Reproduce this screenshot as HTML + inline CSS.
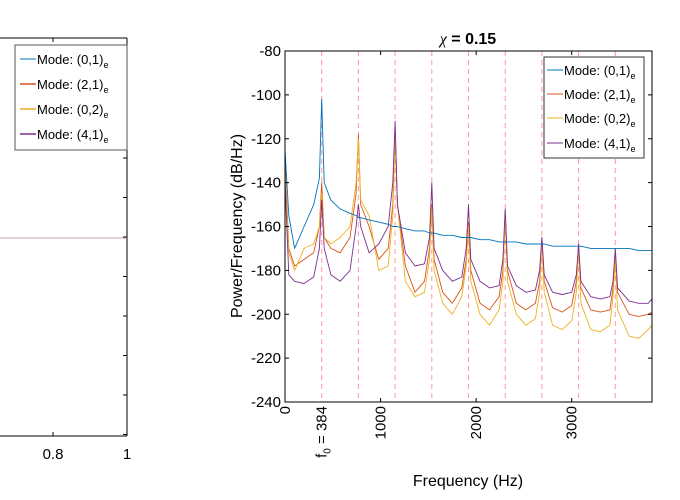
<!DOCTYPE html>
<html><head><meta charset="utf-8"><style>
body{margin:0;background:#fff;}
svg{display:block;font-family:"Liberation Sans",sans-serif;}
</style></head><body>
<svg id="c" width="680" height="500" viewBox="0 0 680 500">
<g id="left">
  <line x1="0" y1="436" x2="127" y2="436" stroke="#000"/>
  <line x1="0" y1="38" x2="127" y2="38" stroke="#000"/>
  <line x1="127" y1="38" x2="127" y2="436" stroke="#000"/>
  <line x1="53" y1="436" x2="53" y2="432" stroke="#000"/>
  <line x1="53" y1="38" x2="53" y2="42" stroke="#000"/>
  <line x1="0" y1="238" x2="127" y2="238" stroke="#c9a0b0" stroke-width="1"/>
  <text x="53" y="459" font-size="15" text-anchor="middle">0.8</text>
  <text x="127" y="459" font-size="15" text-anchor="middle">1</text>
  <g id="ltick"></g>
  <g>
    <rect x="15" y="45" width="112" height="105" fill="#fff" stroke="#555"/>
    <line x1="20" y1="59" x2="36" y2="59" stroke="#0072bd"/><text x="37" y="64" font-size="13">Mode: (0,1)<tspan font-size="9" dy="4">e</tspan></text>
    <line x1="20" y1="84" x2="36" y2="84" stroke="#d95319" stroke-width="1.5"/><text x="37" y="89" font-size="13">Mode: (2,1)<tspan font-size="9" dy="4">e</tspan></text>
    <line x1="20" y1="109" x2="36" y2="109" stroke="#edb120" stroke-width="1.5"/><text x="37" y="114" font-size="13">Mode: (0,2)<tspan font-size="9" dy="4">e</tspan></text>
    <line x1="20" y1="134" x2="36" y2="134" stroke="#7e2f8e" stroke-width="1.5"/><text x="37" y="139" font-size="13">Mode: (4,1)<tspan font-size="9" dy="4">e</tspan></text>
  </g>
</g>
<g id="right">
  <text x="468" y="44" font-size="16" font-weight="bold" text-anchor="middle"><tspan font-family="Liberation Serif" font-style="italic" font-weight="normal">χ</tspan> = 0.15</text>
  <text transform="translate(242,226) rotate(-90)" font-size="16" text-anchor="middle">Power/Frequency (dB/Hz)</text>
  <text x="468" y="486" font-size="16" text-anchor="middle">Frequency (Hz)</text>
  <g id="grid"></g>
  <g id="series"></g>
  <g id="axes"></g>
  <rect x="285" y="51" width="367" height="351" fill="none" stroke="#000"/>
  <g>
    <rect x="544" y="57" width="100" height="101" fill="#fff" stroke="#333"/>
    <line x1="547" y1="70" x2="563" y2="70" stroke="#0072bd"/><text x="564" y="75" font-size="13">Mode: (0,1)<tspan font-size="9" dy="4">e</tspan></text>
    <line x1="547" y1="94" x2="563" y2="94" stroke="#d95319"/><text x="564" y="99" font-size="13">Mode: (2,1)<tspan font-size="9" dy="4">e</tspan></text>
    <line x1="547" y1="118" x2="563" y2="118" stroke="#edb120"/><text x="564" y="123" font-size="13">Mode: (0,2)<tspan font-size="9" dy="4">e</tspan></text>
    <line x1="547" y1="143" x2="563" y2="143" stroke="#7e2f8e"/><text x="564" y="148" font-size="13">Mode: (4,1)<tspan font-size="9" dy="4">e</tspan></text>
  </g>
</g>
</svg>
<script>
const freqs=[0,40,100,200,300,360,384,410,480,576,680,744,768,792,880,980,1080,1128,1152,1176,1260,1360,1460,1512,1536,1560,1650,1750,1850,1896,1920,1944,2040,2140,2240,2280,2304,2328,2420,2520,2620,2664,2688,2712,2800,2900,3000,3048,3072,3096,3200,3300,3400,3432,3456,3480,3600,3700,3800,3840];
const mode01=[-125,-155,-170,-160,-150,-138,-102,-140,-148,-152,-154,-155,-156,-156,-157,-158,-159,-160,-160,-160,-161,-162,-162,-163,-163,-163,-164,-164,-165,-165,-165,-165,-166,-166,-167,-167,-167,-167,-167,-168,-168,-168,-168,-168,-169,-169,-169,-169,-169,-169,-170,-170,-170,-170,-170,-170,-170,-171,-171,-171];
const mode21=[-130,-170,-178,-175,-172,-160,-140,-165,-170,-172,-165,-145,-118,-150,-160,-175,-170,-150,-115,-150,-178,-190,-185,-170,-150,-175,-190,-195,-188,-175,-158,-180,-195,-198,-192,-180,-153,-180,-195,-198,-195,-185,-165,-185,-197,-199,-196,-185,-168,-188,-198,-199,-198,-188,-172,-190,-200,-201,-200,-199];
const mode02=[-135,-172,-180,-170,-168,-160,-145,-165,-168,-165,-160,-140,-120,-148,-155,-180,-178,-155,-118,-150,-185,-192,-190,-175,-152,-180,-195,-200,-192,-178,-160,-185,-200,-205,-198,-185,-155,-185,-200,-205,-202,-190,-167,-190,-205,-207,-203,-190,-170,-195,-207,-208,-205,-192,-175,-198,-210,-211,-207,-205];
const mode41=[-140,-182,-185,-186,-183,-170,-148,-170,-182,-185,-180,-160,-150,-160,-172,-168,-160,-140,-112,-150,-172,-178,-177,-165,-140,-170,-180,-185,-183,-170,-150,-175,-185,-188,-187,-175,-152,-178,-187,-190,-189,-180,-165,-182,-190,-191,-190,-182,-168,-185,-192,-193,-192,-185,-170,-188,-194,-195,-195,-193];
const harmonics=[384,768,1152,1536,1920,2304,2688,3072,3456];
const yTicks=[-80,-100,-120,-140,-160,-180,-200,-220,-240];
const xTicks=[0,1000,2000,3000];
const NS='http://www.w3.org/2000/svg';
const X0=285,X1=652,Y0=51,Y1=402,XMAX=3840,YMIN=-240,YMAX=-80;
const xs=f=>X0+f/XMAX*(X1-X0);
const ys=v=>Y1-(v-YMIN)/(YMAX-YMIN)*(Y1-Y0);
function mk(tag,attrs,parent){const e=document.createElementNS(NS,tag);for(const k in attrs)e.setAttribute(k,attrs[k]);parent.appendChild(e);return e;}
const grid=document.getElementById('grid'),series=document.getElementById('series'),axes=document.getElementById('axes');
harmonics.forEach(h=>{const l=mk('line',{x1:xs(h),x2:xs(h),y1:Y0,y2:Y1,stroke:'#ff9a9a','stroke-dasharray':'5,4','stroke-width':1},grid);

});
[[mode21,'#d95319','series-mode-2-1'],[mode02,'#edb120','series-mode-0-2'],[mode41,'#7e2f8e','series-mode-4-1'],[mode01,'#0072bd','series-mode-0-1']].forEach(([d,c,n])=>{
const p=mk('polyline',{points:d.map((v,i)=>xs(freqs[i]).toFixed(1)+','+ys(v).toFixed(1)).join(' '),fill:'none',stroke:c,'stroke-width':0.9,'stroke-linejoin':'round'},series);

});
yTicks.forEach(v=>{mk('line',{x1:X0,x2:X0+4,y1:ys(v),y2:ys(v),stroke:'#000'},axes);mk('line',{x1:X1,x2:X1-4,y1:ys(v),y2:ys(v),stroke:'#000'},axes);
const t=mk('text',{x:X0-4,y:ys(v)+5,'font-size':15,'text-anchor':'end'},axes);t.textContent=v;

});
xTicks.forEach(v=>{mk('line',{x1:xs(v),x2:xs(v),y1:Y1,y2:Y1-4,stroke:'#000'},axes);mk('line',{x1:xs(v),x2:xs(v),y1:Y0,y2:Y0+4,stroke:'#000'},axes);
const t=mk('text',{transform:`translate(${xs(v)+5},${Y1+4}) rotate(-90)`,'font-size':15,'text-anchor':'end'},axes);t.textContent=v;

});
const f0=mk('text',{transform:`translate(${xs(harmonics[0])+5},${Y1+4}) rotate(-90)`,'font-size':15,'text-anchor':'end'},axes);
f0.innerHTML='f<tspan font-size="10" dy="4">0</tspan><tspan dy="-4"> = '+harmonics[0]+'</tspan>';


const lt=document.getElementById('ltick');
for(let y=79;y<436;y+=39.5){mk('line',{x1:127,x2:123,y1:y,y2:y,stroke:'#000'},lt);}
</script>
</body></html>
